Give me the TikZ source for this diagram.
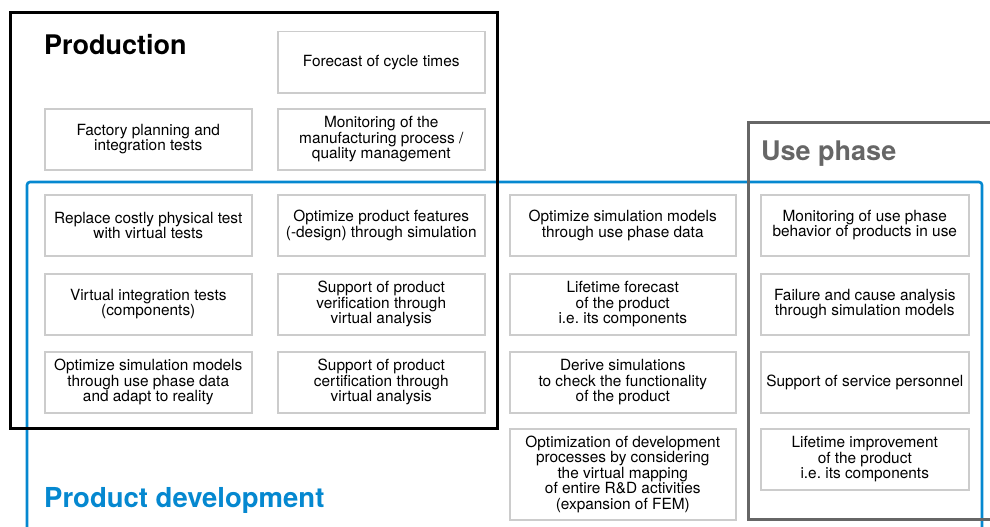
\documentclass[tikz,border=0pt]{standalone}
\usepackage{fontspec}
\setmainfont{TeX Gyre Heros}
\usepackage{xcolor}
\usepackage{tikz}
\frenchspacing

\definecolor{devblue}{HTML}{0588D0}
\definecolor{usegray}{HTML}{666666}
\definecolor{boxgray}{HTML}{CCCCCC}

\tikzset{
	usecase/.style={draw=boxgray, line width=1.5pt, anchor=north west, minimum width=207pt, minimum height=61pt, inner sep=0pt, align=center, font=\fontsize{15.4}{15.5}\selectfont},
	areatitle/.style={anchor=base west, inner sep=0pt, font=\fontsize{27}{30}\selectfont\bfseries},
}

\begin{document}
\begin{tikzpicture}[x=1pt, y=-1pt]
	\useasboundingbox (0,0) rectangle (990,527);
	\clip (0,0) rectangle (990,527);

	% areas
	\draw[devblue, line width=2.6pt, rounded corners=3pt] (27,182) rectangle (982,560);
	\draw[black, line width=3pt] (10,13) rectangle (497,428);
	\draw[usegray, line width=3pt] (748,122) rectangle (1010,519);

	\node[areatitle] (prodtitle) at (44,55) {Production};
	\node[areatitle, usegray] (usetitle) at (761,160) {Use phase};
	\node[areatitle, devblue, font=\fontsize{27.5}{30}\selectfont\bfseries] (devtitle) at (44,507) {Product development};

	% production only
	\node[usecase] (fcycle) at (277,31) {Forecast of cycle times};
	\node[usecase] (factory) at (44,108) {Factory planning and\\integration tests};
	\node[usecase] (monitor) at (277,108) {Monitoring of the\\manufacturing process /\\quality management};

	% production and development
	\node[usecase] (replace) at (44,194) {Replace costly physical test\\with virtual tests};
	\node[usecase] (optfeat) at (277,194) {Optimize product features\\(-design) through simulation};
	\node[usecase] (virtint) at (44,273) {Virtual integration tests\\(components)};
	\node[usecase] (verif) at (277,273) {Support of product\\verification through\\virtual analysis};
	\node[usecase] (optsim) at (44,351) {Optimize simulation models\\through use phase data\\and adapt to reality};
	\node[usecase] (certif) at (277,351) {Support of product\\certification through\\virtual analysis};

	% development only
	\node[usecase, minimum width=226pt] (optuse) at (509,194) {Optimize simulation models\\through use phase data};
	\node[usecase, minimum width=226pt] (lifefc) at (509,273) {Lifetime forecast\\of the product\\i.e. its components};
	\node[usecase, minimum width=226pt] (derive) at (509,351) {Derive simulations\\to check the functionality\\of the product};
	\node[usecase, minimum width=226pt, minimum height=91pt] (optproc) at (509,428) {Optimization of development\\processes by considering\\the virtual mapping\\of entire R\&D activities\\(expansion of FEM)};

	% use phase
	\node[usecase, minimum width=208pt] (monuse) at (760,194) {Monitoring of use phase\\behavior of products in use};
	\node[usecase, minimum width=208pt] (failure) at (760,273) {Failure and cause analysis\\through simulation models};
	\node[usecase, minimum width=208pt] (service) at (760,351) {Support of service personnel};
	\node[usecase, minimum width=208pt] (lifeimp) at (760,428) {Lifetime improvement\\of the product\\i.e. its components};
\end{tikzpicture}
\end{document}
